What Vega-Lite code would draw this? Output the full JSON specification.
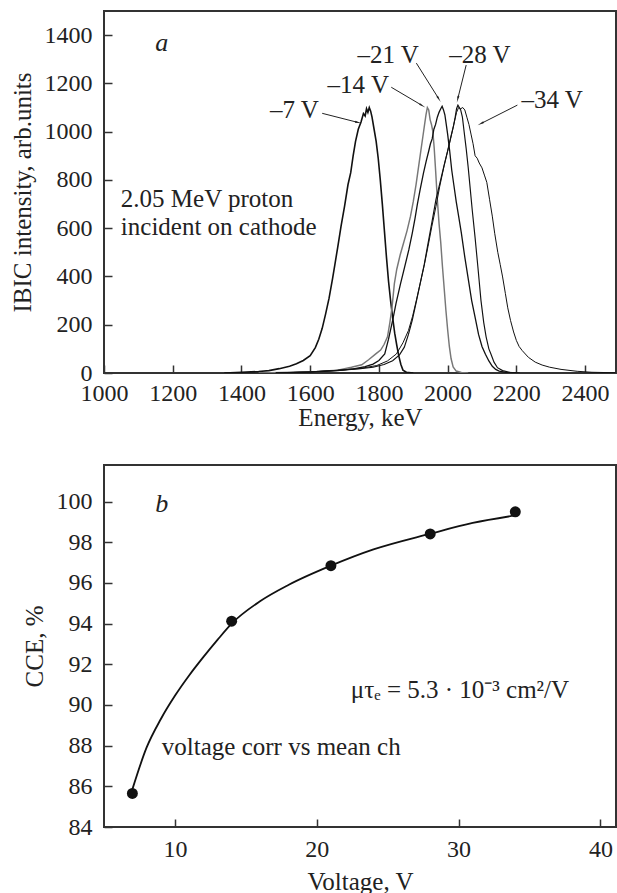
{
  "$schema": "https://vega.github.io/schema/vega-lite/v6.json",
  "padding": {"left": 9, "top": 10, "right": 1, "bottom": 0},
  "background": "white",
  "spacing": 33,
  "config": {
    "view": {"stroke": "#333", "strokeWidth": 2},
    "font": "Liberation Serif",
    "axis": {
      "domain": false, "grid": false,
      "labelFont": "Liberation Serif", "labelFontSize": 24, "labelColor": "#222",
      "titleFont": "Liberation Serif", "titleFontSize": 25, "titleFontWeight": "normal", "titleColor": "#222",
      "tickSize": -8, "tickColor": "#333", "tickWidth": 1.5,
      "labelPadding": 20, "titlePadding": 9, "labelFlush": false, "labelOverlap": false, "format": "d"
    }
  },
  "datasets": {
    "spectra": [
      {"s":"-7","x":1350,"y":0},{"s":"-7","x":1400,"y":3},{"s":"-7","x":1450,"y":6},{"s":"-7","x":1480,"y":10},{"s":"-7","x":1510,"y":18},{"s":"-7","x":1540,"y":28},{"s":"-7","x":1560,"y":38},{"s":"-7","x":1580,"y":52},{"s":"-7","x":1600,"y":72},{"s":"-7","x":1615,"y":105},{"s":"-7","x":1625,"y":140},{"s":"-7","x":1635,"y":185},{"s":"-7","x":1645,"y":245},{"s":"-7","x":1655,"y":310},{"s":"-7","x":1665,"y":390},{"s":"-7","x":1672,"y":450},{"s":"-7","x":1680,"y":520},{"s":"-7","x":1690,"y":610},{"s":"-7","x":1700,"y":690},{"s":"-7","x":1710,"y":780},{"s":"-7","x":1718,"y":830},{"s":"-7","x":1725,"y":900},{"s":"-7","x":1732,"y":960},{"s":"-7","x":1740,"y":1010},{"s":"-7","x":1748,"y":1040},{"s":"-7","x":1755,"y":1075},{"s":"-7","x":1760,"y":1065},{"s":"-7","x":1764,"y":1095},{"s":"-7","x":1768,"y":1080},{"s":"-7","x":1772,"y":1100},{"s":"-7","x":1776,"y":1085},{"s":"-7","x":1780,"y":1060},{"s":"-7","x":1786,"y":1010},{"s":"-7","x":1792,"y":960},{"s":"-7","x":1798,"y":890},{"s":"-7","x":1804,"y":800},{"s":"-7","x":1810,"y":700},{"s":"-7","x":1816,"y":590},{"s":"-7","x":1822,"y":480},{"s":"-7","x":1828,"y":380},{"s":"-7","x":1834,"y":300},{"s":"-7","x":1840,"y":230},{"s":"-7","x":1846,"y":165},{"s":"-7","x":1852,"y":115},{"s":"-7","x":1858,"y":70},{"s":"-7","x":1864,"y":35},{"s":"-7","x":1870,"y":12},{"s":"-7","x":1880,"y":3},{"s":"-7","x":1900,"y":0},
      {"s":"-14","x":1450,"y":0},{"s":"-14","x":1550,"y":3},{"s":"-14","x":1620,"y":6},{"s":"-14","x":1680,"y":12},{"s":"-14","x":1720,"y":24},{"s":"-14","x":1750,"y":34},{"s":"-14","x":1770,"y":55},{"s":"-14","x":1790,"y":78},{"s":"-14","x":1805,"y":95},{"s":"-14","x":1815,"y":118},{"s":"-14","x":1825,"y":150},{"s":"-14","x":1832,"y":210},{"s":"-14","x":1838,"y":270},{"s":"-14","x":1845,"y":370},{"s":"-14","x":1852,"y":430},{"s":"-14","x":1862,"y":490},{"s":"-14","x":1872,"y":540},{"s":"-14","x":1882,"y":590},{"s":"-14","x":1892,"y":650},{"s":"-14","x":1900,"y":710},{"s":"-14","x":1908,"y":780},{"s":"-14","x":1915,"y":850},{"s":"-14","x":1922,"y":920},{"s":"-14","x":1928,"y":980},{"s":"-14","x":1933,"y":1030},{"s":"-14","x":1937,"y":1070},{"s":"-14","x":1941,"y":1100},{"s":"-14","x":1945,"y":1090},{"s":"-14","x":1949,"y":1050},{"s":"-14","x":1953,"y":1030},{"s":"-14","x":1957,"y":1000},{"s":"-14","x":1961,"y":930},{"s":"-14","x":1965,"y":840},{"s":"-14","x":1970,"y":720},{"s":"-14","x":1975,"y":620},{"s":"-14","x":1980,"y":540},{"s":"-14","x":1985,"y":440},{"s":"-14","x":1990,"y":350},{"s":"-14","x":1995,"y":260},{"s":"-14","x":2000,"y":180},{"s":"-14","x":2005,"y":110},{"s":"-14","x":2010,"y":60},{"s":"-14","x":2016,"y":25},{"s":"-14","x":2025,"y":8},{"s":"-14","x":2040,"y":2},{"s":"-14","x":2060,"y":0},
      {"s":"-21","x":1500,"y":0},{"s":"-21","x":1600,"y":4},{"s":"-21","x":1680,"y":10},{"s":"-21","x":1726,"y":17},{"s":"-21","x":1760,"y":26},{"s":"-21","x":1783,"y":37},{"s":"-21","x":1800,"y":52},{"s":"-21","x":1817,"y":79},{"s":"-21","x":1828,"y":140},{"s":"-21","x":1840,"y":218},{"s":"-21","x":1850,"y":290},{"s":"-21","x":1863,"y":370},{"s":"-21","x":1875,"y":440},{"s":"-21","x":1887,"y":510},{"s":"-21","x":1897,"y":579},{"s":"-21","x":1905,"y":640},{"s":"-21","x":1912,"y":700},{"s":"-21","x":1920,"y":760},{"s":"-21","x":1930,"y":830},{"s":"-21","x":1938,"y":880},{"s":"-21","x":1945,"y":920},{"s":"-21","x":1950,"y":950},{"s":"-21","x":1955,"y":970},{"s":"-21","x":1960,"y":1010},{"s":"-21","x":1965,"y":1030},{"s":"-21","x":1970,"y":1060},{"s":"-21","x":1975,"y":1080},{"s":"-21","x":1980,"y":1095},{"s":"-21","x":1984,"y":1105},{"s":"-21","x":1988,"y":1090},{"s":"-21","x":1992,"y":1070},{"s":"-21","x":1996,"y":1030},{"s":"-21","x":2000,"y":990},{"s":"-21","x":2006,"y":920},{"s":"-21","x":2012,"y":840},{"s":"-21","x":2018,"y":780},{"s":"-21","x":2025,"y":710},{"s":"-21","x":2032,"y":650},{"s":"-21","x":2040,"y":580},{"s":"-21","x":2050,"y":480},{"s":"-21","x":2060,"y":390},{"s":"-21","x":2070,"y":300},{"s":"-21","x":2080,"y":230},{"s":"-21","x":2090,"y":160},{"s":"-21","x":2100,"y":110},{"s":"-21","x":2110,"y":78},{"s":"-21","x":2120,"y":50},{"s":"-21","x":2130,"y":28},{"s":"-21","x":2140,"y":15},{"s":"-21","x":2150,"y":8},{"s":"-21","x":2170,"y":3},{"s":"-21","x":2200,"y":0},
      {"s":"-28","x":1500,"y":0},{"s":"-28","x":1600,"y":4},{"s":"-28","x":1669,"y":10},{"s":"-28","x":1740,"y":17},{"s":"-28","x":1783,"y":24},{"s":"-28","x":1815,"y":35},{"s":"-28","x":1840,"y":51},{"s":"-28","x":1860,"y":75},{"s":"-28","x":1874,"y":107},{"s":"-28","x":1886,"y":160},{"s":"-28","x":1897,"y":218},{"s":"-28","x":1908,"y":290},{"s":"-28","x":1920,"y":370},{"s":"-28","x":1932,"y":450},{"s":"-28","x":1943,"y":537},{"s":"-28","x":1955,"y":630},{"s":"-28","x":1966,"y":718},{"s":"-28","x":1978,"y":790},{"s":"-28","x":1989,"y":856},{"s":"-28","x":2000,"y":920},{"s":"-28","x":2008,"y":970},{"s":"-28","x":2017,"y":1023},{"s":"-28","x":2022,"y":1060},{"s":"-28","x":2026,"y":1095},{"s":"-28","x":2030,"y":1110},{"s":"-28","x":2034,"y":1100},{"s":"-28","x":2038,"y":1090},{"s":"-28","x":2043,"y":1060},{"s":"-28","x":2048,"y":1000},{"s":"-28","x":2054,"y":930},{"s":"-28","x":2060,"y":850},{"s":"-28","x":2066,"y":760},{"s":"-28","x":2072,"y":670},{"s":"-28","x":2080,"y":560},{"s":"-28","x":2088,"y":440},{"s":"-28","x":2097,"y":301},{"s":"-28","x":2105,"y":210},{"s":"-28","x":2112,"y":150},{"s":"-28","x":2120,"y":100},{"s":"-28","x":2126,"y":79},{"s":"-28","x":2135,"y":45},{"s":"-28","x":2145,"y":22},{"s":"-28","x":2160,"y":10},{"s":"-28","x":2180,"y":3},{"s":"-28","x":2210,"y":0},
      {"s":"-34","x":1500,"y":0},{"s":"-34","x":1600,"y":5},{"s":"-34","x":1691,"y":12},{"s":"-34","x":1750,"y":20},{"s":"-34","x":1794,"y":31},{"s":"-34","x":1825,"y":50},{"s":"-34","x":1851,"y":79},{"s":"-34","x":1870,"y":125},{"s":"-34","x":1886,"y":176},{"s":"-34","x":1898,"y":235},{"s":"-34","x":1909,"y":301},{"s":"-34","x":1920,"y":370},{"s":"-34","x":1931,"y":440},{"s":"-34","x":1943,"y":525},{"s":"-34","x":1954,"y":607},{"s":"-34","x":1966,"y":690},{"s":"-34","x":1977,"y":773},{"s":"-34","x":1990,"y":860},{"s":"-34","x":2006,"y":954},{"s":"-34","x":2018,"y":1030},{"s":"-34","x":2026,"y":1080},{"s":"-34","x":2032,"y":1100},{"s":"-34","x":2038,"y":1095},{"s":"-34","x":2044,"y":1100},{"s":"-34","x":2050,"y":1090},{"s":"-34","x":2056,"y":1060},{"s":"-34","x":2062,"y":1030},{"s":"-34","x":2068,"y":990},{"s":"-34","x":2074,"y":950},{"s":"-34","x":2080,"y":900},{"s":"-34","x":2086,"y":890},{"s":"-34","x":2092,"y":870},{"s":"-34","x":2100,"y":850},{"s":"-34","x":2107,"y":820},{"s":"-34","x":2114,"y":790},{"s":"-34","x":2122,"y":720},{"s":"-34","x":2130,"y":650},{"s":"-34","x":2137,"y":579},{"s":"-34","x":2146,"y":500},{"s":"-34","x":2153,"y":450},{"s":"-34","x":2160,"y":398},{"s":"-34","x":2168,"y":330},{"s":"-34","x":2175,"y":270},{"s":"-34","x":2183,"y":218},{"s":"-34","x":2192,"y":170},{"s":"-34","x":2200,"y":135},{"s":"-34","x":2208,"y":110},{"s":"-34","x":2217,"y":93},{"s":"-34","x":2235,"y":65},{"s":"-34","x":2255,"y":45},{"s":"-34","x":2275,"y":33},{"s":"-34","x":2297,"y":24},{"s":"-34","x":2330,"y":15},{"s":"-34","x":2377,"y":7},{"s":"-34","x":2420,"y":3},{"s":"-34","x":2489,"y":1}
    ],
    "arrows": [
      {"x":1635,"y":1076,"xe":1737,"ye":1039},
      {"x":1836,"y":1184,"xe":1924,"ye":1110},
      {"x":1909,"y":1284,"xe":1973,"ye":1139},
      {"x":2054,"y":1276,"xe":2030,"ye":1139},
      {"x":2203,"y":1110,"xe":2099,"ye":1035}
    ],
    "heads": [
      {"x":1737,"y":1039,"ang":104},
      {"x":1924,"y":1110,"ang":121},
      {"x":1973,"y":1139,"ang":148},
      {"x":2030,"y":1139,"ang":194},
      {"x":2099,"y":1035,"ang":243}
    ],
    "labelsA": [
      {"x":1554,"y":1089,"t":"–7 V"},
      {"x":1740,"y":1193,"t":"–14 V"},
      {"x":1827,"y":1317,"t":"–21 V"},
      {"x":2094,"y":1317,"t":"–28 V"},
      {"x":2304,"y":1130,"t":"–34 V"}
    ],
    "notesA": [
      {"x":1049,"y":723,"t":"2.05 MeV proton"},
      {"x":1049,"y":603,"t":"incident on cathode"}
    ],
    "letterA": [{"x":1168,"y":1366,"t":"a"}],
    "cce": [
      {"x":7,"y":85.65},{"x":14,"y":94.12},{"x":21,"y":96.85},{"x":28,"y":98.41},{"x":34,"y":99.5}
    ],
    "fit": [
      {"x":7,"y":85.85},{"x":8,"y":87.9},{"x":9,"y":89.3},{"x":10,"y":90.45},{"x":11,"y":91.45},{"x":12,"y":92.35},{"x":13,"y":93.2},{"x":14,"y":94.0},{"x":16,"y":95.1},{"x":18,"y":95.9},{"x":21,"y":96.85},{"x":24,"y":97.65},{"x":28,"y":98.42},{"x":31,"y":98.95},{"x":34,"y":99.32}
    ],
    "notesB": [
      {"x":9.08,"y":87.93,"t":"voltage corr vs mean ch"},
      {"x":22.4,"y":90.73,"t":"μτₑ = 5.3 · 10⁻³ cm²/V"}
    ],
    "letterB": [{"x":9.08,"y":99.88,"t":"b"}]
  },
  "vconcat": [
    {
      "width": 512, "height": 362,
      "encoding": {
        "x": {"field": "x", "type": "quantitative", "scale": {"domain": [1000, 2490], "nice": false, "zero": false},
              "axis": {"title": "Energy, keV", "values": [1000,1200,1400,1600,1800,2000,2200,2400], "labelPadding": 16, "titlePadding": 0}},
        "y": {"field": "y", "type": "quantitative", "scale": {"domain": [0, 1500], "nice": false},
              "axis": {"title": "IBIC intensity, arb.units", "values": [0,200,400,600,800,1000,1200,1400]}}
      },
      "layer": [
        {
          "data": {"name": "spectra"},
          "mark": {"type": "line", "clip": true},
          "encoding": {
            "detail": {"field": "s"},
            "color": {"field": "s", "type": "nominal", "legend": null,
                      "scale": {"domain": ["-7","-14","-21","-28","-34"], "range": ["#111","#777","#111","#111","#111"]}},
            "strokeWidth": {"field": "s", "type": "nominal", "legend": null,
                      "scale": {"domain": ["-7","-14","-21","-28","-34"], "range": [1.6, 1, 1.6, 1.6, 1.9]}}
          }
        },
        {
          "data": {"name": "arrows"},
          "mark": {"type": "rule", "color": "#222", "strokeWidth": 1},
          "encoding": {"x2": {"field": "xe"}, "y2": {"field": "ye"}}
        },
        {
          "data": {"name": "heads"},
          "mark": {"type": "point", "shape": "wedge", "filled": true, "color": "#222", "size": 60, "opacity": 1},
          "encoding": {"angle": {"field": "ang", "type": "quantitative", "scale": null}}
        },
        {
          "data": {"name": "labelsA"},
          "mark": {"type": "text", "font": "Liberation Serif", "fontSize": 25, "color": "#222", "align": "center", "baseline": "middle"},
          "encoding": {"text": {"field": "t"}}
        },
        {
          "data": {"name": "notesA"},
          "mark": {"type": "text", "font": "Liberation Serif", "fontSize": 25, "color": "#222", "align": "left", "baseline": "middle"},
          "encoding": {"text": {"field": "t"}}
        },
        {
          "data": {"name": "letterA"},
          "mark": {"type": "text", "font": "Liberation Serif", "fontSize": 26, "fontStyle": "italic", "color": "#222", "align": "center", "baseline": "middle"},
          "encoding": {"text": {"field": "t"}}
        }
      ]
    },
    {
      "width": 512, "height": 362,
      "encoding": {
        "x": {"field": "x", "type": "quantitative", "scale": {"domain": [5, 41.1], "nice": false, "zero": false},
              "axis": {"title": "Voltage, V", "values": [10, 20, 30, 40], "labelPadding": 18, "titlePadding": 8}},
        "y": {"field": "y", "type": "quantitative", "scale": {"domain": [84, 101.8], "nice": false, "zero": false},
              "axis": {"title": "CCE, %", "values": [84,86,88,90,92,94,96,98,100]}}
      },
      "layer": [
        {
          "data": {"name": "fit"},
          "mark": {"type": "line", "interpolate": "monotone", "color": "#111", "strokeWidth": 1.8}
        },
        {
          "data": {"name": "cce"},
          "mark": {"type": "point", "filled": true, "color": "#111", "size": 120, "opacity": 1}
        },
        {
          "data": {"name": "notesB"},
          "mark": {"type": "text", "font": "Liberation Serif", "fontSize": 25, "color": "#222", "align": "left", "baseline": "middle"},
          "encoding": {"text": {"field": "t"}}
        },
        {
          "data": {"name": "letterB"},
          "mark": {"type": "text", "font": "Liberation Serif", "fontSize": 26, "fontStyle": "italic", "color": "#222", "align": "center", "baseline": "middle"},
          "encoding": {"text": {"field": "t"}}
        }
      ]
    }
  ]
}
